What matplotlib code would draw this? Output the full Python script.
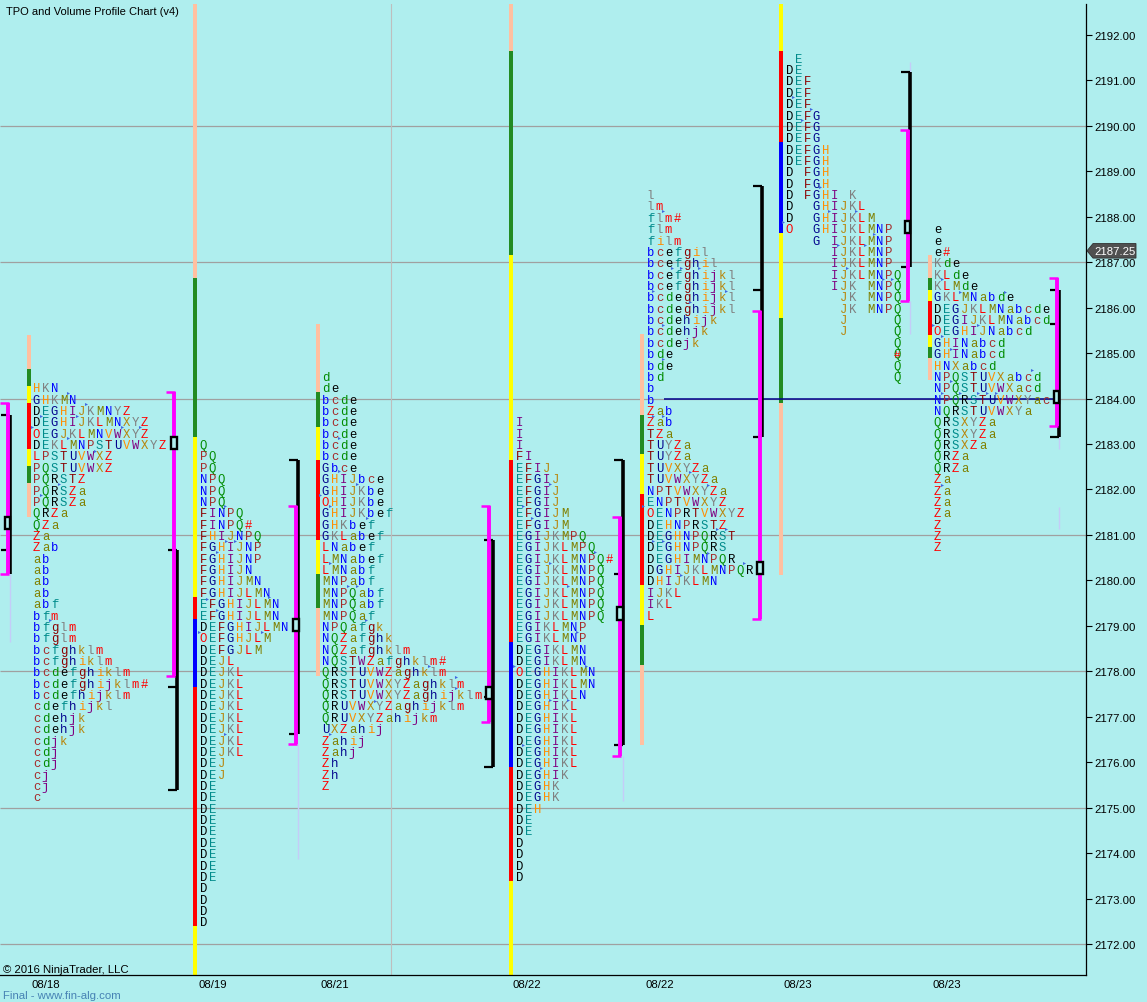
# TPO and volume profile chart
import matplotlib
matplotlib.use('Agg')
from matplotlib import pyplot as plt
from matplotlib.patches import Polygon

# Profile letters, one string per row, top row first (rows step down 0.25)
rows_1 = ['HKN', 'GHKMN', 'DEGHIJKMNYZ', 'DEGHIJKLMNXYZ', 'OEGJKLMNVWXYZ', 'DEKLMNPSTUVWXYZ',
          'LPSTUVWXZ', 'PQSTUVWXZ', 'PQRSTZ', 'PQRSZa', 'PQRSZa', 'QRZa', 'QZa', 'Za', 'Zab',
          'ab', 'ab', 'ab', 'ab', 'abf', 'bfm', 'bfglm', 'bfglm', 'bcfghklm', 'bcfghiklm',
          'bcdefghiklm', 'bcdefghijklm#', 'bcdefhijklm', 'cdefhijkl', 'cdehjk', 'cdehjk',
          'cdjk', 'cdj', 'cdj', 'cj', 'cj', 'c']
rows_2 = ['Q', 'PQ', 'PQ', 'NPQ', 'NPQ', 'NPQ', 'FINPQ', 'FINPQ#', 'FHIJNPQ', 'FGHIJNP', 'FGHIJNP',
          'FGHIJN', 'FGHIJMN', 'FGHIJLMN', 'EFGHIJLMN', 'EFGHIJLMN', 'DEFGHIJLMN', 'OEFGHJLM',
          'DEFGJLM', 'DEJL', 'DEJKL', 'DEJKL', 'DEJKL', 'DEJKL', 'DEJKL', 'DEJKL', 'DEJKL', 'DEJKL',
          'DEJ', 'DEJ', 'DE', 'DE', 'DE', 'DE', 'DE', 'DE', 'DE', 'DE', 'DE', 'D', 'D', 'D', 'D']
rows_3 = ['d', 'de', 'bcde', 'bcde', 'bcde', 'bcde', 'bcde', 'bcde', 'Gbce', 'GHIJbce', 'GHIJKbe',
          'OHIJKbe', 'GHIJKbef', 'GHKbef', 'GKLabef', 'LNabef', 'LMNabef', 'LMNabf', 'MNPabf',
          'MNPQabf', 'MNPQabf', 'MNPQaf', 'NPQafgk', 'NQZafghk', 'NQZafghklm', 'NQSTWZafghklm#',
          'QRSTUVWZaghklm', 'QRSTUVWXYZaghklm', 'QRSTUVWXYZaghijklm', 'QRUVWXYZaghijklm',
          'QRUVXYZahijkm', 'UXZahij', 'Zahij', 'Zahj', 'Zh', 'Zh', 'Z']
rows_4 = ['I', 'I', 'I', 'FI', 'EFIJ', 'EFGIJ', 'EFGIJ', 'EFGIJ', 'EFGIJM', 'EFGIJM', 'EGIJKMPQ',
          'EGIJKLMPQ', 'EGIJKLMNPQ#', 'EGIJKLMNPQ', 'EGIJKLMNPQ', 'EGIJKLMNPQ', 'EGIJKLMNPQ',
          'EGIJKLMNPQ', 'EGIKLMNP', 'EGIKLMNP', 'DEGIKLMN', 'DEGIKLMN', 'OEGHIKLMN', 'DEGHIKLMN',
          'DEGHIKLN', 'DEGHIKL', 'DEGHIKL', 'DEGHIKL', 'DEGHIKL', 'DEGHIKL', 'DEGHIKL', 'DEGHIK',
          'DEGHK', 'DEGHK', 'DEH', 'DE', 'DE', 'D', 'D', 'D', 'D']
rows_5 = ['l', 'lm', 'flm#', 'flm', 'film', 'bcefgil', 'bcefghil', 'bcefghijkl', 'bcefghijkl',
          'bcdeghijkl', 'bcdeghijkl', 'bcdehijk', 'bcdehjk', 'bcdejk', 'bde', 'bde', 'bd', 'b', 'b',
          'Zab', 'Zab', 'TZa', 'TUYZa', 'TUYZa', 'TUVXYZa', 'TUVWXYZa', 'NPTVWXYZa', 'ENPTVWXYZ',
          'OENPRTVWXYZ', 'DEHNPRSTZ', 'DEGHNPQRST', 'DEGHNPQRS', 'DEGHIMNPQR', 'DGHIJKLMNPQR',
          'DHIJKLMN', 'IJKL', 'IKL', 'L']
rows_6 = [' E', 'DE', 'DEF', 'DEF', 'DEF', 'DEFG', 'DEFG', 'DEFG', 'DEFGH', 'DEFGH', 'D FGH', 'D FGH',
          'D FGHI K', 'D  GHIJKL', 'D  GHIJKLM', 'O  GHIJKLMNP', '   G IJKLMNP', '     IJKLMNP',
          '     IJKLMNP', '     IJKLMNPQ', '     IJK MNPQ', '      JK MNPQ', '      JK MNPQ',
          '      J     Q', '      J     Q', '            Q', '            Q', '            Q',
          '            Q']
rows_7 = ['e', 'e', 'e#', 'Kde', 'KLde', 'KLMde', 'GKLMNabde', 'DEGJKLMNabcde', 'DEGIJKLMNabcd',
          'OEGHIJNabcd', 'GHINabcd', 'GHINabcd', 'HNXabcd', 'NPQSTUVXabcd', 'NPQSTUVWXacd',
          'NPQRSTUVWXYac', 'NQRSTUVWXYa', 'QRSXYZa', 'QRSXYZa', 'QRSXZa', 'QRZa', 'QRZa',
          'Za', 'Za', 'Za', 'Za', 'Z', 'Z', 'Z']
all_rows = [rows_1, rows_2, rows_3, rows_4, rows_5, rows_6, rows_7]

# Price of the top row of each profile
top_prices = [2184.25, 2183.0, 2184.5, 2183.5, 2188.5, 2191.5, 2187.75]

# Coloured volume bar next to each profile: band edges (price) and band names
edges_1 = [2185.40, 2184.65, 2184.28, 2183.90, 2182.89, 2182.52, 2182.14, 2181.39]
bands_1 = ['peach', 'green', 'yellow', 'red', 'yellow', 'green', 'peach']
edges_2 = [2192.75, 2186.65, 2183.15, 2179.63, 2179.15, 2177.65, 2172.40, 2171.25]
bands_2 = ['peach', 'green', 'yellow', 'red', 'blue', 'red', 'yellow']
edges_3 = [2185.64, 2184.15, 2183.38, 2182.65, 2180.89, 2180.14, 2179.39, 2177.90]
bands_3 = ['peach', 'green', 'yellow', 'red', 'yellow', 'green', 'peach']
edges_4 = [2192.75, 2191.65, 2187.16, 2182.65, 2178.65, 2175.89, 2173.39, 2171.25]
bands_4 = ['peach', 'green', 'yellow', 'red', 'blue', 'red', 'yellow']
edges_5 = [2185.42, 2183.64, 2182.78, 2181.90, 2179.90, 2179.02, 2178.14, 2176.38]
bands_5 = ['peach', 'green', 'yellow', 'red', 'yellow', 'green', 'peach']
edges_6 = [2192.75, 2191.65, 2189.65, 2187.64, 2185.77, 2183.90, 2180.12]
bands_6 = ['yellow', 'red', 'blue', 'yellow', 'green', 'peach']
edges_7 = [2187.16, 2186.65, 2186.39, 2186.15, 2185.40, 2185.14, 2184.89, 2184.41]
bands_7 = ['peach', 'green', 'yellow', 'red', 'yellow', 'green', 'peach']
all_edges = [edges_1, edges_2, edges_3, edges_4, edges_5, edges_6, edges_7]
all_bands = [bands_1, bands_2, bands_3, bands_4, bands_5, bands_6, bands_7]

# Brackets: magenta (top, bottom), black (top, bottom), black ticks, box (top, bottom)
magenta_ranges = [(2183.90, 2180.14), (2184.15, 2177.90), (2181.64, 2176.40), (2181.64, 2176.88),
                  (2181.39, 2176.14), (2185.93, 2179.15), (2189.91, 2186.15), (2186.65, 2183.40)]
black_ranges = [(2183.64, 2180.14), (2180.67, 2175.39), (2182.65, 2176.62), (2180.89, 2175.89),
                (2182.65, 2176.38), (2188.68, 2183.15), (2191.19, 2186.90), (2186.39, 2183.15)]
black_ticks = [[2183.64, 2180.67], [2180.67, 2177.65, 2175.39], [2182.65, 2176.62],
               [2180.89, 2177.43, 2175.89], [2182.65, 2180.14, 2176.38],
               [2188.68, 2186.39, 2183.15], [2191.19, 2186.90], [2186.39, 2185.64, 2183.15]]
box_ranges = [(2181.39, 2181.13), (2183.15, 2182.89), (2179.15, 2178.89), (2177.65, 2177.39),
              (2179.41, 2179.13), (2180.40, 2180.14), (2187.91, 2187.64), (2184.17, 2183.90)]

# Faint volume traces (x slot index, top, bottom)
faint_traces = [(0, 2180.14, 2178.64), (2, 2176.40, 2173.87), (4, 2176.14, 2175.15),
                (6, 2191.40, 2191.19), (6, 2186.15, 2185.42), (7, 2183.15, 2182.89),
                (7, 2181.61, 2181.13)]

# Small blue arrows between letters, as (row, column) inside each profile
arrows_1 = [(0.5, 3.9), (1.5, 5.9), (2.5, 0.9), (2.5, 4.9), (3.5, -0.1), (3.5, 9.9), (3.5, 11.9),
            (4.5, 3.9), (5.6, 6.9), (8.5, 2.9), (9.5, 0.9), (20.5, 1.9)]
arrows_2 = [(5.5, 2.8), (8.5, 2.9), (8.5, 3.9), (9.5, 1.9), (13.5, 7.7), (13.6, 0.8), (14.6, 1.9),
            (16.5, -0.1), (16.5, 6.9), (25.5, 2.8)]
arrows_3 = [(5.5, 1.9), (8.4, 1.9), (9.5, 3.9), (10.5, -0.2), (11.5, 0.9), (12.5, 5.0), (16.5, 0.9),
            (18.5, 2.9), (18.5, 3.9), (21.5, 4.9), (25.5, 11.9), (26.5, 14.9), (27.5, 14.9),
            (28.6, 5.9), (31.5, 0.9)]
arrows_4 = [(5.5, 3.8), (7.5, 0.8), (8.5, 1.8), (11.5, 8.8), (12.5, 3.8), (14.5, 5.8), (18.5, 6.8),
            (21.5, -0.2), (21.5, 7.8), (24.5, 3.8), (24.5, 5.8), (28.5, 0.8), (30.5, 2.8)]
arrows_5 = [(1.5, 1.8), (6.5, 2.8), (6.5, 3.8), (6.5, 5.8), (8.5, 0.7), (8.5, 8.8), (9.5, 4.8),
            (11.5, 1.8), (14.5, 1.8), (19.5, 0.7), (19.5, 1.8), (24.5, 4.8), (25.6, 6.8), (27.5, -0.4),
            (29.5, 7.8), (29.5, 8.8), (30.5, 0.7), (30.5, 1.8), (31.6, 6.8), (32.5, 10.8), (33.5, 3.8)]
arrows_6 = [(3.5, 0.8), (4.5, 2.8), (5.5, 1.8), (11.4, 3.8), (13.5, 4.8), (13.5, 7.8), (14.5, -0.3),
            (15.5, 9.8), (16.5, 5.8), (16.5, 8.8), (18.5, 6.8), (19.5, 10.8), (19.5, 11.8)]
arrows_7 = [(4.5, 0.9), (5.6, 2.9), (5.6, 7.9), (8.5, -0.1), (8.5, 4.9), (9.5, 0.9), (10.6, 1.9),
            (12.5, 10.9), (13.5, 1.9), (14.5, 0.9), (14.5, 2.9), (14.5, 4.9), (14.5, 5.9), (14.5, 6.9),
            (22.6, 0.9)]
all_arrows = [arrows_1, arrows_2, arrows_3, arrows_4, arrows_5, arrows_6, arrows_7]

naked_poc_price = 2184.0
last_price = 2187.25
hash_on_q_price = 2185.0
price_ticks = list(range(2172, 2193))
grid_prices = [2172, 2175, 2178, 2181, 2184, 2187, 2190]
date_labels = ['08/18', '08/19', '08/21', '08/22', '08/22', '08/23', '08/23']

# Layout, x axis runs in pixels
BG = '#AFEEEE'
letters_x = [33, 200, 322, 516, 647, 786, 934]
bars_x = [29, 195, 318, 511, 642, 781, 930]
dates_x = [46, 213, 335, 527, 660, 798, 947]
magenta_x = [7.5, 174, 296, 489, 620, 760, 907.5, 1056.5]
black_x = [10.2, 176.5, 298, 492.5, 622.5, 761.5, 910, 1059]
CELL = 9.0
band_colors = {'peach': '#FFC0A0', 'green': '#228B22', 'yellow': '#FFFF00', 'red': '#FF0000', 'blue': '#0000FF'}

# Letter colours repeat every 13 periods, O is the open
sequence = 'DEFGHIJKLMNPQRSTUVWXYZabcdefghijklm'
cycle = ['#000000', '#008B8B', '#8B0000', '#00008B', '#FF8C00', '#800080', '#B8860B',
         '#808080', '#FF0000', '#808000', '#0000FF', '#A52A2A', '#008B00']
letter_colors = {c: cycle[i % 13] for i, c in enumerate(sequence)}
letter_colors['O'] = '#FF0000'
letter_colors['#'] = '#FF0000'

plt.rcParams['font.family'] = ['Liberation Sans', 'DejaVu Sans']
fig = plt.figure(figsize=(11.47, 10.03), dpi=100, facecolor=BG)
ax = fig.add_axes([0, 27 / 1003, 1086 / 1147, 971 / 1003], facecolor=BG)
ax.set_xlim(0, 1086)
ax.set_ylim(2171.318, 2192.68)

# Grid
ax.hlines(grid_prices, 0, 1086, color='#A0A0A0', lw=0.9, zorder=1)
ax.axvline(391, color='#BEBEBE', lw=0.8, zorder=1)

# Volume bars
for x, edges, bands in zip(bars_x, all_edges, all_bands):
    for i, band in enumerate(bands):
        ax.bar(x, edges[i] - edges[i + 1], bottom=edges[i + 1], width=4.5,
               color=band_colors[band], linewidth=0, zorder=2)

# Naked POC
ax.hlines(naked_poc_price, 664, 1054, color='#00008B', lw=1.1, zorder=2)

# Letters
for x0, top, rows in zip(letters_x, top_prices, all_rows):
    for r, row in enumerate(rows):
        for c, ch in enumerate(row):
            if ch == ' ':
                continue
            ax.text(x0 + 3.5 + c * CELL, top - r * 0.25 - 0.09, ch, family='Liberation Mono', fontsize=8.8,
                    color=letter_colors[ch], ha='center', va='baseline', zorder=6)
ax.text(letters_x[5] + 3.5 + 12 * CELL, hash_on_q_price - 0.09, '#', family='Liberation Mono', fontsize=8,
        color='#FF0000', ha='center', va='baseline', zorder=7)

# Blue arrows
for x0, top, arrows in zip(letters_x, top_prices, all_arrows):
    ax.plot([x0 + col * CELL for row, col in arrows], [top - row * 0.25 for row, col in arrows],
            linestyle='none', marker='>', markersize=2.2, color='#4169E1', markeredgewidth=0, zorder=7)

# Faint traces
for slot, t, b in faint_traces:
    ax.vlines(black_x[slot], b, t, color='#C4CCF8', lw=1.0, zorder=2)

# Brackets
for i in range(8):
    xm, xb = magenta_x[i], black_x[i]
    ax.vlines(xb, black_ranges[i][1], black_ranges[i][0], color='black', lw=2.6, zorder=3)
    ax.hlines(black_ticks[i], xb - 9, xb, color='black', lw=1.6, zorder=3)
    ax.vlines(xm, magenta_ranges[i][1], magenta_ranges[i][0], color='#FF00FF', lw=2.8, zorder=4)
    ax.hlines(magenta_ranges[i], xm - 8, xm + 1, color='#FF00FF', lw=1.8, zorder=4)
    bt, bb = box_ranges[i]
    ax.bar(xm, bt - bb, bottom=bb, width=5.5, facecolor=BG, edgecolor='black', linewidth=1.7, zorder=5)

# Axes
for side in ['top', 'left']:
    ax.spines[side].set_visible(False)
ax.spines['right'].set_linewidth(0.9)
ax.spines['bottom'].set_linewidth(0.9)
ax.yaxis.tick_right()
ax.set_yticks(price_ticks)
ax.set_yticklabels([f'{p}.00' for p in price_ticks], fontsize=8.2)
ax.tick_params(axis='y', length=4, width=0.8, pad=2)
ax.set_xticks(dates_x)
ax.set_xticklabels(date_labels, fontsize=8.2)
ax.tick_params(axis='x', length=0, pad=3)

# Last price tag
ax.add_patch(Polygon([(1087, last_price), (1093, last_price + 0.16), (1136, last_price + 0.16),
                      (1136, last_price - 0.16), (1093, last_price - 0.16)],
                     closed=True, facecolor='#505050', edgecolor='#303030', lw=0.6, clip_on=False, zorder=8))
ax.text(1094, last_price, f'{last_price:.2f}', color='white', fontsize=8.2, va='center', ha='left',
        clip_on=False, zorder=9)

# Captions
fig.text(6 / 1147, 1 - 12 / 1003, 'TPO and Volume Profile Chart (v4)', fontsize=8, color='black', va='center')
fig.text(3 / 1147, 1 - 970 / 1003, '© 2016 NinjaTrader, LLC', fontsize=8.2, color='black', va='center')
fig.text(3 / 1147, 1 - 996 / 1003, 'Final - www.fin-alg.com', fontsize=8.2, color='#4682B4', va='center')

plt.savefig('out.png', dpi=100, facecolor=BG)
